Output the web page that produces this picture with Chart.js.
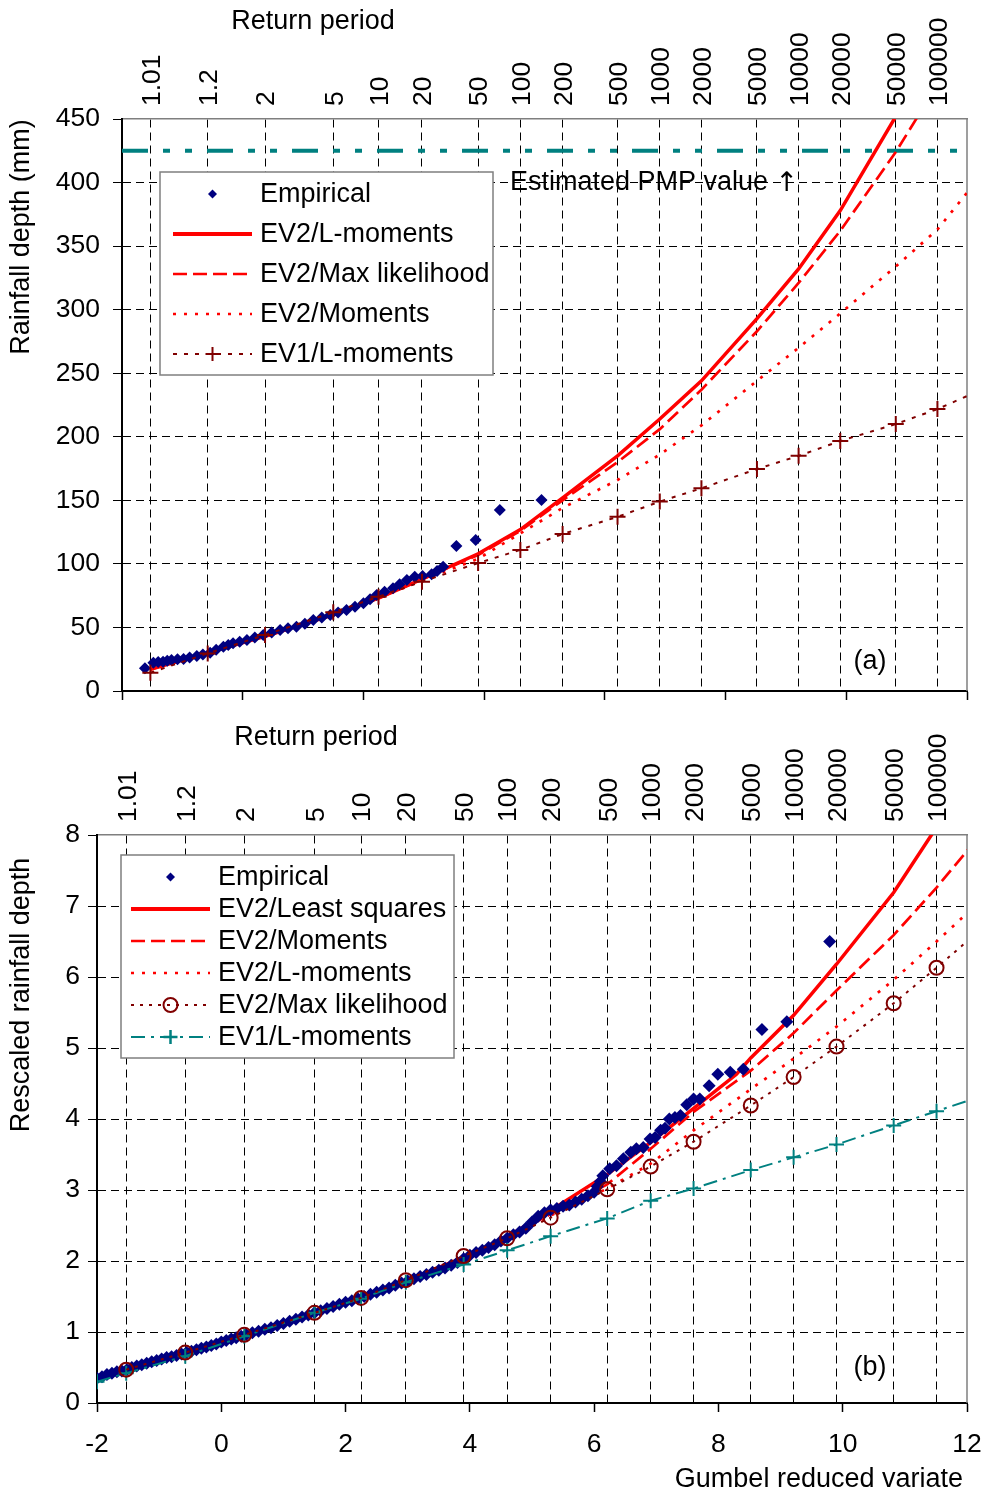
<!DOCTYPE html>
<html>
<head>
<meta charset="utf-8">
<title>Gumbel plots</title>
<style>
  html, body { margin: 0; padding: 0; background: #fff; }
  canvas { display: block; }
</style>
</head>
<body>
<canvas id="chartA" width="985" height="720"></canvas>
<canvas id="chartB" width="985" height="773"></canvas>
<script src="https://cdn.jsdelivr.net/npm/chart.js"></script>
<script>
// ---- data ----
// return periods on the top axis and their Gumbel reduced variate positions
const rpLabels = ['1.01','1.2','2','5','10','20','50','100','200','500','1000','2000','5000','10000','20000','50000','100000'];
const rpVariate = [-1.53,-0.58,0.37,1.50,2.25,2.97,3.90,4.60,5.30,6.21,6.91,7.60,8.52,9.21,9.90,10.82,11.51];

// panel (a) - rainfall depth (mm)
const empAX = [-1.62,-1.48,-1.40,-1.32,-1.25,-1.18,-1.08,-0.98,-0.88,-0.76,-0.66,-0.54,-0.44,-0.32,-0.24,-0.16,-0.05,0.07,0.20,0.34,0.48,0.62,0.75,0.89,1.03,1.17,1.31,1.45,1.58,1.72,1.86,2.00,2.11,2.22,2.35,2.49,2.60,2.72,2.85,2.98,3.13,3.22,3.32,3.54,3.86,4.26,4.95];
const empAY = [17.8,22.3,22.8,23.1,23.8,24.4,24.9,25.2,26.3,27.5,28.7,30.1,32.5,34.9,36.2,37.5,38.8,40.1,42.0,44.1,46.0,48.0,49.3,50.6,53.0,55.9,57.8,59.8,61.8,63.7,66.2,69.0,72.2,75.5,78.0,80.8,84.0,87.3,89.9,90.5,91.8,94.5,97.8,114.1,118.8,142.4,150.3];
const lmomAX = rpVariate.slice(0, 16);
const lmomAY = [17,30,43,60,73,88,108,127,152,185,214,244,293,332,378,452];
const mlAX = rpVariate;
const mlAY = [17,30,43,60,73,88,107,126,150,180,206,237,283,321,362,424,477];
const momAX = [...rpVariate, 12.0];
const momAY = [17,30,43,60,73,87,104,124,144,166,186,209,244,270,297,334,363,392];
const ev1AX = [...rpVariate, 12.0];
const ev1AY = [14.4,29.6,44.1,61.9,74.2,86.0,100.7,111.0,123.5,137.0,149.0,159.5,174.6,185.0,196.7,210.0,221.8,232.0];
const pmpValue = 425;

// panel (b) - rescaled rainfall depth
const empBX = [-2.00,-1.92,-1.84,-1.76,-1.68,-1.60,-1.52,-1.44,-1.36,-1.28,-1.20,-1.12,-1.04,-0.96,-0.88,-0.80,-0.72,-0.64,-0.56,-0.48,
  -0.40,-0.32,-0.24,-0.16,-0.08,0.00,0.08,0.16,0.24,0.32,0.40,0.50,0.60,0.70,0.80,0.90,1.00,1.10,1.20,1.30,
  1.40,1.50,1.60,1.70,1.80,1.90,2.00,2.10,2.20,2.30,2.40,2.50,2.60,2.70,2.80,2.90,3.00,3.10,3.20,3.30,
  3.40,3.50,3.60,3.70,3.80,3.90,4.00,4.10,4.20,4.30,4.40,4.50,4.60,4.70,4.80,4.90,5.00,5.10,5.20,5.30,
  5.40,5.50,5.60,5.70,5.80,5.90,6.00,6.05,6.10,6.14,6.25,6.36,6.47,6.59,6.68,6.79,6.90,6.98,7.07,7.14,
  7.21,7.30,7.39,7.49,7.60,7.70,7.85,7.99,8.19,8.40,8.70,9.10,9.79];
const empBY = [0.35,0.37,0.40,0.42,0.44,0.45,0.47,0.50,0.52,0.54,0.56,0.58,0.60,0.62,0.64,0.65,0.67,0.69,0.71,0.73,
  0.75,0.77,0.79,0.81,0.83,0.86,0.88,0.90,0.92,0.94,0.96,0.99,1.01,1.04,1.06,1.09,1.12,1.15,1.18,1.21,
  1.24,1.27,1.30,1.33,1.36,1.39,1.42,1.44,1.47,1.50,1.53,1.56,1.59,1.62,1.66,1.69,1.72,1.75,1.78,1.81,
  1.84,1.87,1.90,1.94,1.98,2.03,2.08,2.12,2.15,2.19,2.23,2.28,2.32,2.37,2.41,2.46,2.55,2.63,2.68,2.72,
  2.74,2.77,2.79,2.83,2.87,2.92,2.97,3.05,3.12,3.20,3.30,3.34,3.44,3.53,3.58,3.60,3.72,3.74,3.84,3.87,
  4.00,4.02,4.05,4.20,4.28,4.28,4.47,4.63,4.66,4.70,5.26,5.37,6.50];
const lsqBX = [-2.00,-1.53,-0.58,0.37,1.50,2.25,2.97,3.90,4.60,5.30,6.21,6.91,7.60,8.29,8.52,9.21,9.90,10.82,11.51];
const lsqBY = [0.35,0.47,0.71,0.96,1.27,1.48,1.72,2.05,2.34,2.71,3.22,3.67,4.15,4.63,4.86,5.46,6.18,7.19,8.11];
const momBX = [-2.00, ...rpVariate, 12.10];
const momBY = [0.35,0.47,0.71,0.96,1.27,1.48,1.72,2.05,2.33,2.66,3.08,3.58,4.10,4.68,5.21,5.81,6.59,7.26,7.88];
const lmomBX = [-2.00, ...rpVariate, 12.10];
const lmomBY = [0.35,0.47,0.71,0.96,1.27,1.48,1.72,2.05,2.32,2.64,3.02,3.37,3.84,4.42,4.85,5.30,5.96,6.50,6.98];
const mlBX = [...rpVariate, 12.13];
const mlBY = [0.47,0.71,0.96,1.27,1.48,1.73,2.07,2.32,2.61,3.01,3.33,3.68,4.19,4.59,5.02,5.63,6.13,6.60];
const ev1BX = [-2.00, ...rpVariate, 12.16];
const ev1BY = [0.30,0.42,0.66,0.94,1.27,1.47,1.70,1.95,2.15,2.35,2.60,2.85,3.02,3.28,3.46,3.64,3.91,4.11,4.30];

// ---- helpers ----
const FONT = '"Liberation Sans", Arial, Helvetica, "DejaVu Sans", sans-serif';
Chart.defaults.font.family = FONT;
Chart.defaults.color = '#000';

const xy = (xs, ys) => xs.map((x, i) => ({ x: x, y: ys[i] }));
// no marker on the end point that runs off to the right edge
const markerUntil = (r) => (c) => (c.raw && c.raw.x > 11.9 ? 0 : r);

function drawMarker(ctx, style, r, x, y, color, lw) {
  ctx.save();
  ctx.setLineDash([]);
  ctx.strokeStyle = color;
  ctx.fillStyle = color;
  ctx.lineWidth = lw;
  ctx.beginPath();
  if (style === 'rectRot') {
    ctx.moveTo(x, y - r); ctx.lineTo(x + r, y); ctx.lineTo(x, y + r); ctx.lineTo(x - r, y);
    ctx.closePath(); ctx.fill();
  } else if (style === 'cross') {
    ctx.moveTo(x - r, y); ctx.lineTo(x + r, y);
    ctx.moveTo(x, y - r); ctx.lineTo(x, y + r);
    ctx.stroke();
  } else if (style === 'circle') {
    ctx.arc(x, y, r, 0, Math.PI * 2);
    ctx.stroke();
  }
  ctx.restore();
}

// frame, return period labels, titles, in-plot texts and the boxed legend
const decor = {
  id: 'decor',
  beforeDatasetsDraw(chart, args, o) {
    const a = chart.chartArea, ctx = chart.ctx;
    ctx.save();
    ctx.strokeStyle = '#7f7f7f';
    ctx.lineWidth = 1.5;
    ctx.beginPath();
    ctx.moveTo(a.right, a.top);
    ctx.lineTo(a.right, a.bottom);
    ctx.stroke();
    ctx.restore();
  },
  afterDraw(chart, args, o) {
    const ctx = chart.ctx;
    const rp = chart.scales.rp;
    ctx.save();
    ctx.fillStyle = '#000';
    ctx.font = '26.5px ' + FONT;
    ctx.textAlign = 'left';
    ctx.textBaseline = 'middle';
    rpVariate.forEach((v, i) => {
      ctx.save();
      ctx.translate(rp.getPixelForValue(v) + 2, chart.chartArea.top - 13);
      ctx.rotate(-Math.PI / 2);
      ctx.fillText(rpLabels[i], 0, 0);
      ctx.restore();
    });
    o.texts.forEach(t => {
      ctx.save();
      ctx.font = t.size + 'px ' + FONT;
      ctx.textAlign = t.align || 'center';
      ctx.translate(t.x, t.y);
      if (t.rotate) ctx.rotate(-Math.PI / 2);
      ctx.fillText(t.text, 0, 0);
      if (t.arrow) {
        const w = ctx.measureText(t.text).width;
        ctx.font = t.size + 'px "DejaVu Sans", sans-serif';
        ctx.fillText(t.arrow, w, 1);
      }
      ctx.restore();
    });
    ctx.restore();

    const L = o.legend;
    ctx.save();
    ctx.fillStyle = '#fff';
    ctx.fillRect(L.x, L.y, L.w, L.h);
    ctx.strokeStyle = '#7f7f7f';
    ctx.lineWidth = 1.5;
    ctx.strokeRect(L.x, L.y, L.w, L.h);
    L.items.forEach((di, k) => {
      const ds = chart.data.datasets[di];
      const y = L.firstY + k * L.rowH;
      if (ds.showLine !== false) {
        ctx.save();
        ctx.strokeStyle = ds.borderColor;
        ctx.lineWidth = ds.legendWidth || ds.borderWidth;
        ctx.setLineDash(ds.borderDash || []);
        ctx.beginPath();
        ctx.moveTo(L.sx1, y);
        ctx.lineTo(L.sx2, y);
        ctx.stroke();
        ctx.restore();
      }
      if (ds.legendMarker) {
        const m = ds.legendMarker;
        drawMarker(ctx, m.style, m.r, (L.sx1 + L.sx2) / 2, y, m.color, m.lw);
      }
      ctx.fillStyle = '#000';
      ctx.font = L.size + 'px ' + FONT;
      ctx.textAlign = 'left';
      ctx.textBaseline = 'middle';
      ctx.fillText(ds.label, L.tx, y + 1);
    });
    ctx.restore();
  }
};

// fixed axis boxes, so the plot area lands where it is in the figure
const fixH = (h) => (s) => { s.height = h; s.paddingLeft = 0; s.paddingRight = 0; };
const fixW = (w) => (s) => { s.width = w; s.paddingTop = 0; s.paddingBottom = 0; };

function buildScales(p) {
  return {
    x: {
      type: 'linear', position: 'bottom', min: -2, max: 12,
      ticks: { stepSize: 2, display: p.xLabels, font: { size: 26.5 }, color: '#000', padding: 17, maxRotation: 0 },
      grid: { drawOnChartArea: false, drawTicks: true, tickLength: 9, tickColor: '#000', tickWidth: 1.5 },
      border: { color: '#000', width: 2 },
      afterFit: fixH(p.bottomH)
    },
    rp: {
      type: 'linear', position: 'top', min: -2, max: 12,
      afterBuildTicks: s => { s.ticks = rpVariate.map(v => ({ value: v })); },
      ticks: { display: false, autoSkip: false },
      grid: { color: '#000', lineWidth: 1, drawTicks: false },
      border: { color: '#7f7f7f', width: 1.5, dash: [8, 5] },
      afterFit: fixH(p.topH)
    },
    y: {
      type: 'linear', position: 'left', min: 0, max: p.yMax,
      ticks: { stepSize: p.yStep, padding: p.yPad, font: { size: 26.5 }, color: '#000' },
      grid: {
        color: c => (c.tick && c.tick.value === p.yMax ? 'rgba(0,0,0,0)' : '#000'),
        lineWidth: 1, tickLength: 9, tickColor: '#000', tickWidth: 1
      },
      border: { color: '#000', width: 2, dash: [8, 5] },
      afterFit: fixW(p.leftW)
    }
  };
}

const common = {
  responsive: false,
  animation: false,
  events: [],
  layout: { padding: { left: 0, right: 18, top: 0, bottom: 0 } }
};

// ---- panel (a) ----
new Chart(document.getElementById('chartA'), {
  type: 'scatter',
  data: {
    datasets: [
      { label: 'Empirical', data: xy(empAX, empAY), showLine: false, order: 2,
        pointStyle: 'rectRot', pointRadius: 6, pointBackgroundColor: '#000080', pointBorderWidth: 0,
        legendMarker: { style: 'rectRot', r: 4.5, color: '#000080', lw: 1 } },
      { label: 'EV2/L-moments', data: xy(lmomAX, lmomAY), showLine: true, order: 3,
        borderColor: '#ff0000', borderWidth: 3.5, legendWidth: 4, pointRadius: 0 },
      { label: 'EV2/Max likelihood', data: xy(mlAX, mlAY), showLine: true, order: 3,
        borderColor: '#ff0000', borderWidth: 2.7, borderDash: [14, 6], pointRadius: 0 },
      { label: 'EV2/Moments', data: xy(momAX, momAY), showLine: true, order: 3,
        borderColor: '#ff0000', borderWidth: 2.7, borderDash: [3, 8], pointRadius: 0 },
      { label: 'EV1/L-moments', data: xy(ev1AX, ev1AY), showLine: true, order: 1,
        borderColor: '#800000', borderWidth: 2, borderDash: [4, 7],
        pointStyle: 'cross', pointRadius: markerUntil(8), pointBorderColor: '#800000', pointBorderWidth: 2,
        legendMarker: { style: 'cross', r: 7, color: '#800000', lw: 2 } },
      { label: 'PMP', data: [{ x: -2, y: pmpValue }, { x: 12, y: pmpValue }], showLine: true, order: 4,
        borderColor: '#008080', borderWidth: 4, borderDash: [26, 15, 7, 15, 7, 15], pointRadius: 0 }
    ]
  },
  options: Object.assign({}, common, {
    scales: buildScales({ xLabels: false, bottomH: 29, topH: 119, leftW: 122, yMax: 450, yStep: 50, yPad: 13 }),
    plugins: {
      legend: { display: false },
      tooltip: { enabled: false },
      decor: {
        texts: [
          { text: 'Return period', x: 313, y: 22, size: 27 },
          { text: 'Rainfall depth (mm)', x: 22, y: 237, size: 27, rotate: true },
          { text: 'Estimated PMP value ', arrow: '\u2191', x: 510, y: 183, size: 27, align: 'left' },
          { text: '(a)', x: 870, y: 662, size: 27 }
        ],
        legend: { x: 160, y: 172, w: 333, h: 203, firstY: 194, rowH: 40, sx1: 173, sx2: 252, tx: 260, size: 27,
          items: [0, 1, 2, 3, 4] }
      }
    }
  }),
  plugins: [decor]
});

// ---- panel (b) ----
new Chart(document.getElementById('chartB'), {
  type: 'scatter',
  data: {
    datasets: [
      { label: 'Empirical', data: xy(empBX, empBY), showLine: false, order: 2,
        pointStyle: 'rectRot', pointRadius: 6.5, pointBackgroundColor: '#000080', pointBorderWidth: 0,
        legendMarker: { style: 'rectRot', r: 4.5, color: '#000080', lw: 1 } },
      { label: 'EV2/Least squares', data: xy(lsqBX, lsqBY), showLine: true, order: 3,
        borderColor: '#ff0000', borderWidth: 3.5, legendWidth: 4, pointRadius: 0 },
      { label: 'EV2/Moments', data: xy(momBX, momBY), showLine: true, order: 3,
        borderColor: '#ff0000', borderWidth: 2.7, borderDash: [14, 6], pointRadius: 0 },
      { label: 'EV2/L-moments', data: xy(lmomBX, lmomBY), showLine: true, order: 3,
        borderColor: '#ff0000', borderWidth: 2.7, borderDash: [3, 8], pointRadius: 0 },
      { label: 'EV2/Max likelihood', data: xy(mlBX, mlBY), showLine: true, order: 1,
        borderColor: '#800000', borderWidth: 2, borderDash: [3, 6],
        pointStyle: 'circle', pointRadius: markerUntil(7), pointBorderColor: '#800000',
        pointBackgroundColor: 'rgba(0,0,0,0)', pointBorderWidth: 2,
        legendMarker: { style: 'circle', r: 7, color: '#800000', lw: 2 } },
      { label: 'EV1/L-moments', data: xy(ev1BX, ev1BY), showLine: true, order: 1,
        borderColor: '#008080', borderWidth: 2, borderDash: [14, 6, 3, 6],
        pointStyle: 'cross', pointRadius: markerUntil(7.5), pointBorderColor: '#008080', pointBorderWidth: 2,
        legendMarker: { style: 'cross', r: 7, color: '#008080', lw: 2.5 } }
    ]
  },
  options: Object.assign({}, common, {
    scales: buildScales({ xLabels: true, bottomH: 90, topH: 115, leftW: 97, yMax: 8, yStep: 1, yPad: 8 }),
    plugins: {
      legend: { display: false },
      tooltip: { enabled: false },
      decor: {
        texts: [
          { text: 'Return period', x: 316, y: 18, size: 27 },
          { text: 'Rescaled rainfall depth', x: 22, y: 275, size: 27, rotate: true },
          { text: '(b)', x: 870, y: 648, size: 27 },
          { text: 'Gumbel reduced variate', x: 963, y: 760, size: 27, align: 'right' }
        ],
        legend: { x: 121, y: 135, w: 333, h: 203, firstY: 157, rowH: 32, sx1: 131, sx2: 210, tx: 218, size: 27,
          items: [0, 1, 2, 3, 4, 5] }
      }
    }
  }),
  plugins: [decor]
});
</script>
</body>
</html>
